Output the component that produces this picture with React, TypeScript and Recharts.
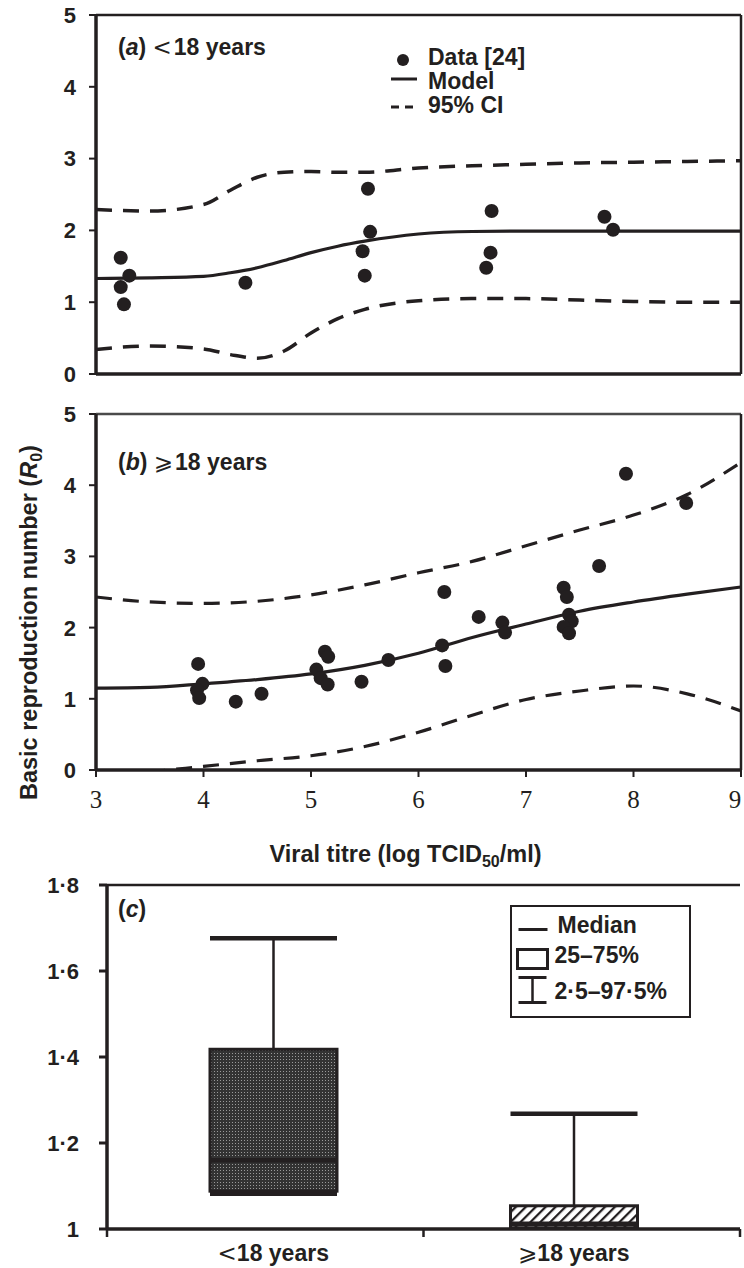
import React from 'react';
import {
  ComposedChart,
  Line,
  Scatter,
  Bar,
  Cell,
  XAxis,
  YAxis,
  ReferenceLine,
  Legend,
} from 'recharts';

// Shared look
const INK = '#231f20';
const FONT = '"Liberation Sans", Arial, Helvetica, sans-serif';
const SERIF = '"Liberation Serif", "Times New Roman", serif';

// Axis ticks
const TITRE_TICKS = [3, 4, 5, 6, 7, 8, 9];
const R0_TICKS = [0, 1, 2, 3, 4, 5];
const BOX_TICKS = [1, 1.2, 1.4, 1.6, 1.8];

// Panel (a): < 18 years
const GRID_A = [3, 3.5, 4, 4.25, 4.5, 4.75, 5, 5.25, 5.5, 6, 6.5, 7, 7.5, 8, 8.5, 9];
const MODEL_A = [1.33, 1.34, 1.36, 1.41, 1.48, 1.58, 1.69, 1.78, 1.85, 1.95, 1.985, 1.99, 1.99, 1.99, 1.99, 1.99];
const UPPER_A = [2.29, 2.27, 2.36, 2.56, 2.74, 2.81, 2.82, 2.81, 2.81, 2.87, 2.9, 2.92, 2.94, 2.95, 2.96, 2.97];
const LOWER_A = [0.34, 0.39, 0.35, 0.27, 0.22, 0.32, 0.57, 0.77, 0.9, 1.02, 1.05, 1.05, 1.03, 1.01, 1.0, 1.0];
const OBS_A_X = [3.23, 3.31, 3.23, 3.26, 4.39, 5.53, 5.55, 5.48, 5.5, 6.68, 6.67, 6.63, 7.73, 7.81];
const OBS_A_Y = [1.62, 1.37, 1.21, 0.97, 1.27, 2.58, 1.98, 1.71, 1.37, 2.27, 1.69, 1.48, 2.19, 2.01];

// Panel (b): >= 18 years
const GRID_B = [3, 3.5, 4, 4.5, 5, 5.5, 6, 6.5, 7, 7.5, 8, 8.5, 9];
const MODEL_B = [1.15, 1.16, 1.21, 1.27, 1.35, 1.47, 1.64, 1.86, 2.05, 2.23, 2.36, 2.47, 2.57];
const UPPER_B = [2.43, 2.36, 2.34, 2.37, 2.46, 2.6, 2.77, 2.93, 3.15, 3.37, 3.58, 3.87, 4.32];
const LOWER_B = [-0.15, -0.03, 0.05, 0.13, 0.2, 0.33, 0.53, 0.77, 0.99, 1.11, 1.18, 1.07, 0.83];
const OBS_B_X = [3.95, 3.99, 3.94, 3.96, 4.3, 4.54, 5.05, 5.13, 5.16, 5.09, 5.155, 5.47, 5.72, 6.24, 6.22, 6.25, 6.56, 6.78, 6.805, 7.35, 7.38, 7.4, 7.425, 7.35, 7.4, 7.68, 7.93, 8.49];
const OBS_B_Y = [1.49, 1.21, 1.12, 1.01, 0.96, 1.07, 1.41, 1.66, 1.59, 1.29, 1.2, 1.24, 1.545, 2.5, 1.75, 1.46, 2.15, 2.07, 1.93, 2.56, 2.43, 2.18, 2.09, 2.01, 1.92, 2.865, 4.16, 3.75];

// Panel (c): R0 distribution by age group
const AGE_GROUPS = ['<18 years', '\u2A7E18 years'];
const R0_LOW = [1.082, 1.0];
const R0_Q1 = [1.088, 1.003];
const R0_MEDIAN = [1.16, 1.012];
const R0_Q3 = [1.418, 1.054];
const R0_HIGH = [1.676, 1.268];
const BOX_FILLS = ['url(#dotFill)', 'url(#hatchFill)'];

const LEGEND_A = ['Data [24]', 'Model', '95% CI'];
const LEGEND_C = ['Median', '25\u201375%', '2\u00b75\u201397\u00b75%'];

const pts = (xs: number[], ys: number[]) => xs.map((x, i) => ({ x, y: ys[i] }));

const modelA = pts(GRID_A, MODEL_A);
const upperA = pts(GRID_A, UPPER_A);
const lowerA = pts(GRID_A, LOWER_A);
const obsA = pts(OBS_A_X, OBS_A_Y);
const modelB = pts(GRID_B, MODEL_B);
const upperB = pts(GRID_B, UPPER_B);
const lowerB = pts(GRID_B, LOWER_B);
const obsB = pts(OBS_B_X, OBS_B_Y);

const boxRows = AGE_GROUPS.map((group, i) => ({
  group,
  lower: R0_LOW[i],
  q1: R0_Q1[i],
  median: R0_MEDIAN[i],
  q3: R0_Q3[i],
  upper: R0_HIGH[i],
}));

// layout of panel (c) x axis
const C_LEFT = 107;
const C_RIGHT = 4;
const C_PAD = 16;
const C_BAND_HALF = (744 - C_LEFT - C_RIGHT - 2 * C_PAD) / AGE_GROUPS.length / 2;

const tickFont = { fill: INK, fontSize: 22, fontWeight: 700, fontFamily: FONT };
const axisStroke = { stroke: INK, strokeWidth: 3.5 };
const tickStroke = { stroke: INK, strokeWidth: 2 };

const Dot = (props: any) => <circle cx={props.cx} cy={props.cy} r={7} fill={INK} />;

const PanelTag = ({ top, letter, group }: { top: number; letter: string; group?: string }) => (
  <div
    style={{
      position: 'absolute',
      left: 118,
      top,
      font: `700 23px/23px ${FONT}`,
      color: INK,
      whiteSpace: 'nowrap',
    }}
  >
    (<i>{letter}</i>)
    {group && (
      <>
        {' '}
        <span style={{ fontWeight: 400, fontFamily: '"DejaVu Sans", sans-serif', marginRight: 2 }}>
          {group[0]}
        </span>
        {group.slice(1)}
      </>
    )}
  </div>
);

const LegendA = () => (
  <div style={{ font: `700 23px/24px ${FONT}`, color: INK }}>
    {LEGEND_A.map((label, i) => (
      <div key={label} style={{ display: 'flex', alignItems: 'center', height: 24 }}>
        <svg width={38} height={24}>
          {i === 0 && <circle cx={13} cy={15} r={6} fill={INK} />}
          {i === 1 && <line x1={1} x2={27} y1={10} y2={10} stroke={INK} strokeWidth={3} />}
          {i === 2 && (
            <line x1={1} x2={23} y1={14} y2={14} stroke={INK} strokeWidth={3} strokeDasharray="8 6" />
          )}
        </svg>
        <span>{label}</span>
      </div>
    ))}
  </div>
);

const LegendC = () => (
  <div
    style={{
      width: 181,
      height: 113,
      border: `2.5px solid ${INK}`,
      boxSizing: 'border-box',
      background: '#fff',
    }}
  >
    <svg width={176} height={108} style={{ display: 'block' }}>
      <g fill={INK} fontFamily={FONT} fontWeight={700} fontSize={23}>
        <line x1={6.5} x2={35.5} y1={22.5} y2={22.5} stroke={INK} strokeWidth={3} />
        <text x={45.5} y={25.5}>{LEGEND_C[0]}</text>
        <rect x={5.5} y={42.5} width={30} height={19} fill="none" stroke={INK} strokeWidth={3} />
        <text x={42.5} y={55.5}>{LEGEND_C[1]}</text>
        <line x1={6.5} x2={34.5} y1={70.5} y2={70.5} stroke={INK} strokeWidth={3} />
        <line x1={20.5} x2={20.5} y1={70.5} y2={95.5} stroke={INK} strokeWidth={2.5} />
        <line x1={6.5} x2={34.5} y1={95.5} y2={95.5} stroke={INK} strokeWidth={3} />
        <text x={42.5} y={91.5}>{LEGEND_C[2]}</text>
      </g>
    </svg>
  </div>
);

// x tick of panel (b): serif numbers plus the axis title under the middle tick
const TitreTick = (props: any) => {
  const { x, y, payload, index } = props;
  const last = index === TITRE_TICKS.length - 1;
  return (
    <g>
      <text x={last ? x - 6 : x} y={y + 19} textAnchor="middle" fill={INK} fontFamily={SERIF} fontSize={25}>
        {payload.value}
      </text>
      {index === 3 && (
        <text
          x={x - 13}
          y={y + 73}
          textAnchor="middle"
          fill={INK}
          fontFamily={FONT}
          fontWeight={700}
          fontSize={23.5}
        >
          <tspan>Viral titre (log TCID</tspan>
          <tspan dy={5} fontSize={16}>50</tspan>
          <tspan dy={-5}>/ml)</tspan>
        </text>
      )}
    </g>
  );
};

// y tick of panel (b): numbers plus the rotated axis title
const R0Tick = (props: any) => {
  const { x, y, payload, index } = props;
  return (
    <g>
      <text x={x} y={y} dy="0.36em" textAnchor="end" fill={INK} fontFamily={FONT} fontWeight={700} fontSize={22}>
        {payload.value}
      </text>
      {index === 2 && (
        <text
          x={x - 39}
          y={y - 5}
          transform={`rotate(-90 ${x - 39} ${y - 5})`}
          textAnchor="middle"
          fill={INK}
          fontFamily={FONT}
          fontWeight={700}
          fontSize={23.5}
        >
          <tspan>Basic reproduction number (</tspan>
          <tspan fontStyle="italic">R</tspan>
          <tspan dy={5} fontSize={16}>0</tspan>
          <tspan dy={-5}>)</tspan>
        </text>
      )}
    </g>
  );
};

// box + whiskers drawn inside the range bar [lower, upper]
const BoxShape = (props: any) => {
  const { x, y, width, height, payload, fill } = props;
  if (!payload || !height) return null;
  const span = payload.upper - payload.lower;
  const py = (v: number) => y + (height * (payload.upper - v)) / span;
  const cx = x + width / 2;
  return (
    <g>
      <line x1={cx} x2={cx} y1={py(payload.upper)} y2={py(payload.q3)} stroke={INK} strokeWidth={2.5} />
      <line x1={x} x2={x + width} y1={py(payload.upper)} y2={py(payload.upper)} stroke={INK} strokeWidth={4.5} />
      <line x1={cx} x2={cx} y1={py(payload.q1)} y2={py(payload.lower)} stroke={INK} strokeWidth={2.5} />
      <line x1={x} x2={x + width} y1={py(payload.lower)} y2={py(payload.lower)} stroke={INK} strokeWidth={4.5} />
      <rect
        x={x}
        y={py(payload.q3)}
        width={width}
        height={py(payload.q1) - py(payload.q3)}
        fill={fill}
        stroke={INK}
        strokeWidth={3}
      />
      <line x1={x} x2={x + width} y1={py(payload.median)} y2={py(payload.median)} stroke={INK} strokeWidth={4.5} />
    </g>
  );
};

const GroupTick = (props: any) => {
  const { x, y, payload, index } = props;
  const marks: number[] = [];
  if (index === 0) marks.push(x - C_BAND_HALF - C_PAD);
  marks.push(x + C_BAND_HALF + (index === AGE_GROUPS.length - 1 ? C_PAD : 0));
  const label: string = payload.value;
  return (
    <g>
      {marks.map((m) => (
        <line key={m} x1={m} x2={m} y1={y} y2={y + 8} stroke={INK} strokeWidth={2.5} />
      ))}
      <text x={x} y={y + 32} textAnchor="middle" fill={INK} fontFamily={FONT} fontWeight={700} fontSize={23}>
        <tspan fontWeight={400} fontFamily='"DejaVu Sans", sans-serif'>{label[0]}</tspan>
        <tspan>{label.slice(1)}</tspan>
      </text>
    </g>
  );
};

const lineBase = {
  type: 'monotone' as const,
  dataKey: 'y',
  stroke: INK,
  dot: false,
  activeDot: false,
  isAnimationActive: false,
  legendType: 'none' as const,
};

const fmtBox = (v: number) => (v === 1 ? '1' : v.toFixed(1).replace('.', '\u00b7'));

export default function App() {
  return (
    <div
      style={{
        position: 'absolute',
        left: 0,
        top: 0,
        width: 744,
        height: 1268,
        background: '#fff',
        overflow: 'hidden',
      }}
    >
      {/* (a) */}
      <div style={{ position: 'absolute', left: 0, top: 0 }}>
        <ComposedChart width={744} height={400} margin={{ top: 15, right: 3, left: 36, bottom: 0 }}>
          <XAxis
            type="number"
            dataKey="x"
            domain={[3, 9]}
            ticks={TITRE_TICKS}
            tick={false}
            tickSize={7}
            height={26}
            axisLine={axisStroke}
            tickLine={tickStroke}
            allowDataOverflow
          />
          <YAxis
            type="number"
            dataKey="y"
            domain={[0, 5]}
            ticks={R0_TICKS}
            width={60}
            tickSize={7}
            tickMargin={13}
            tick={tickFont}
            axisLine={axisStroke}
            tickLine={tickStroke}
            allowDataOverflow
          />
          <ReferenceLine y={5} stroke={INK} strokeWidth={2.5} />
          <ReferenceLine x={9} stroke={INK} strokeWidth={2.5} />
          <Line {...lineBase} data={upperA} strokeWidth={3.5} strokeDasharray="16 11" />
          <Line {...lineBase} data={lowerA} strokeWidth={3.5} strokeDasharray="16 11" />
          <Line {...lineBase} data={modelA} strokeWidth={3.2} />
          <Scatter data={obsA} dataKey="y" shape={Dot} isAnimationActive={false} legendType="none" />
          <Legend
            layout="vertical"
            align="center"
            verticalAlign="middle"
            content={() => <LegendA />}
            wrapperStyle={{ left: 390, top: 45, width: 160 }}
          />
        </ComposedChart>
      </div>

      {/* (b) */}
      <div style={{ position: 'absolute', left: 0, top: 395 }}>
        <ComposedChart width={744} height={480} margin={{ top: 19, right: 3, left: 36, bottom: 0 }}>
          <XAxis
            type="number"
            dataKey="x"
            domain={[3, 9]}
            ticks={TITRE_TICKS}
            tickSize={7}
            tickMargin={12}
            height={105}
            tick={TitreTick}
            axisLine={axisStroke}
            tickLine={tickStroke}
            interval={0}
            allowDataOverflow
          />
          <YAxis
            type="number"
            dataKey="y"
            domain={[0, 5]}
            ticks={R0_TICKS}
            width={60}
            tickSize={7}
            tickMargin={13}
            tick={R0Tick}
            axisLine={axisStroke}
            tickLine={tickStroke}
            interval={0}
            allowDataOverflow
          />
          <ReferenceLine y={5} stroke="#4a4a4a" strokeWidth={2.5} />
          <ReferenceLine x={9} stroke={INK} strokeWidth={2.5} />
          <Line {...lineBase} data={upperB} strokeWidth={3.2} strokeDasharray="16 11" />
          <Line {...lineBase} data={lowerB} strokeWidth={3.2} strokeDasharray="16 11" />
          <Line {...lineBase} data={modelB} strokeWidth={3.2} />
          <Scatter data={obsB} dataKey="y" shape={Dot} isAnimationActive={false} legendType="none" />
        </ComposedChart>
      </div>

      {/* (c) */}
      <div style={{ position: 'absolute', left: 0, top: 860 }}>
        <ComposedChart
          width={744}
          height={408}
          data={boxRows}
          margin={{ top: 25, right: C_RIGHT, left: C_LEFT - 60, bottom: 0 }}
        >
          <defs>
            <pattern id="dotFill" width={3} height={3} patternUnits="userSpaceOnUse">
              <rect width={3} height={3} fill="#333" />
              <rect x={1} y={1} width={1} height={1} fill="#9a9a9a" />
            </pattern>
            <pattern id="hatchFill" width={7} height={7} patternUnits="userSpaceOnUse" patternTransform="rotate(45)">
              <rect width={7} height={7} fill="#fff" />
              <line x1={1} x2={1} y1={0} y2={7} stroke={INK} strokeWidth={2.5} />
            </pattern>
          </defs>
          <XAxis
            dataKey="group"
            type="category"
            padding={{ left: C_PAD, right: C_PAD }}
            height={39}
            tickSize={0}
            tickMargin={0}
            tickLine={false}
            tick={GroupTick}
            axisLine={axisStroke}
            interval={0}
          />
          <YAxis
            type="number"
            domain={[1, 1.8]}
            ticks={BOX_TICKS}
            tickFormatter={fmtBox}
            width={60}
            tickSize={8}
            tickMargin={20}
            tick={tickFont}
            axisLine={axisStroke}
            tickLine={{ stroke: INK, strokeWidth: 3 }}
            allowDataOverflow
          />
          <YAxis
            yAxisId="edge"
            orientation="right"
            width={0}
            domain={[0, 1]}
            tick={false}
            tickLine={false}
            axisLine={{ stroke: INK, strokeWidth: 2.5 }}
          />
          <ReferenceLine y={1.8} stroke={INK} strokeWidth={2.5} />
          <Bar
            dataKey={(d: any) => [d.lower, d.upper]}
            barSize={127}
            shape={BoxShape}
            isAnimationActive={false}
            legendType="none"
          >
            {boxRows.map((row, i) => (
              <Cell key={row.group} fill={BOX_FILLS[i]} />
            ))}
          </Bar>
          <Legend
            layout="vertical"
            align="center"
            verticalAlign="middle"
            content={() => <LegendC />}
            wrapperStyle={{ left: 510, top: 45, width: 181 }}
          />
        </ComposedChart>
      </div>

      <PanelTag top={36} letter="a" group={AGE_GROUPS[0]} />
      <PanelTag top={451} letter="b" group={AGE_GROUPS[1]} />
      <PanelTag top={898} letter="c" />
    </div>
  );
}
